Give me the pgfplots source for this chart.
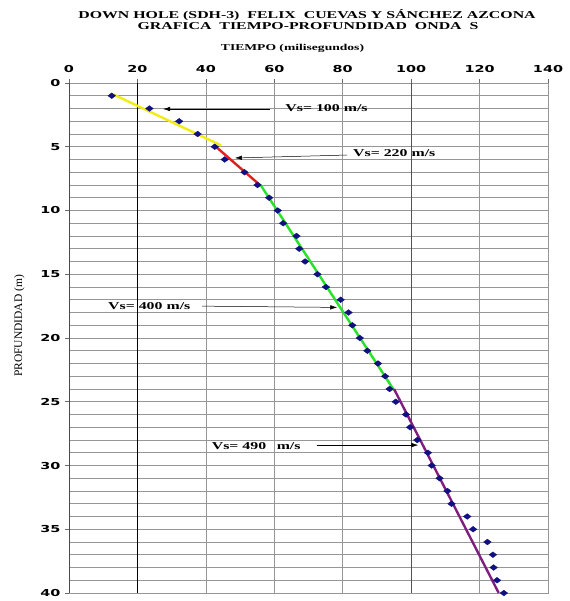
\documentclass[border=0pt]{standalone}
\usepackage{fontspec}
\setmainfont{Liberation Serif}
\newfontfamily\titlefont[FakeStretch=1.51]{Liberation Serif Bold}
\newfontfamily\tickfont[FakeStretch=1.5]{DejaVu Sans Bold}
\usepackage{pgfplots}
\usepackage{pgfplotstable}
\pgfplotsset{compat=1.18}
\usetikzlibrary{arrows.meta}

\definecolor{ptblue}{RGB}{16,16,128}
\definecolor{segyellow}{RGB}{240,236,20}
\definecolor{segred}{RGB}{226,30,30}
\definecolor{seggreen}{RGB}{40,226,40}
\definecolor{segpurple}{RGB}{128,30,128}
\definecolor{gridgray}{RGB}{150,150,150}

% travel time (ms) against depth (m)
\pgfplotstableread{
depth time
1  12.5
2  23.5
3  32.2
4  37.6
5  42.6
6  45.5
7  51.3
8  55.1
9  58.5
10 61.0
11 62.6
12 66.5
13 67.3
14 69.0
15 72.6
16 75.1
17 79.4
18 81.7
19 82.8
20 85.0
21 87.2
22 90.3
23 92.4
24 93.7
25 95.5
26 98.5
27 99.7
28 101.8
29 104.9
30 106.0
31 108.3
32 110.6
33 111.8
34 116.4
35 118.1
36 122.3
37 123.9
38 124.1
39 125.1
40 127.1
}\downhole

\begin{document}
\begin{tikzpicture}
\useasboundingbox (0,0) rectangle (569pt,-601pt);
\begin{axis}[
  at={(69pt,-83pt)}, anchor=north west,
  scale only axis, width=479pt, height=510pt,
  xmin=0, xmax=140, ymin=0, ymax=40, y dir=reverse,
  xtick={0,20,...,140}, ytick={0,5,...,40}, minor y tick num=4,
  xtick pos=right, xticklabel pos=right,
  ytick pos=left, yticklabel pos=left,
  tick align=outside,
  major tick length=4pt, minor tick length=0pt,
  tick style={gridgray!70!black, line width=0.7pt},
  xmajorgrids, ymajorgrids, yminorgrids,
  grid style={gridgray, line width=0.7pt},
  minor grid style={gridgray, line width=0.7pt},
  axis line style={gridgray, line width=0.7pt},
  ticklabel style={font=\tickfont\fontsize{9.6}{11}\selectfont},
  xticklabel style={yshift=3pt},
  yticklabel style={xshift=-1pt},
  /pgf/number format/assume math mode=true,
  clip=false,
]
% darker reference lines of the grid
\draw[gridgray!50!black, line width=0.8pt] (axis cs:0,0) -- (axis cs:0,40);
\draw[black, line width=0.8pt] (axis cs:20,0) -- (axis cs:20,40);
\draw[gridgray!55!black, line width=0.8pt] (axis cs:100,0) -- (axis cs:100,40);

% velocity segments
\addplot[segyellow, line width=2.4pt, no marks] coordinates {(13,0.9) (44.5,4.9)};
\addplot[segred, line width=2.4pt, no marks] coordinates {(42.3,4.85) (56,8.05)};
\addplot[seggreen, line width=2.4pt, no marks] coordinates {(56,8) (95,24.1)};
\addplot[segpurple, line width=2.4pt, no marks] coordinates {(95,24) (125.6,40)};

% measured first arrivals
\addplot[only marks, mark=diamond*, mark size=3.8pt,
  mark options={rotate=90, fill=ptblue, draw=ptblue}]
  table[x=time, y=depth] {\downhole};

% velocity labels
\draw[-{Latex[length=7pt,width=4.5pt]}, line width=0.5pt] (axis cs:58.8,2.04) -- (axis cs:27.5,2.04);
\node[anchor=west, inner sep=0pt, font=\titlefont\fontsize{10.5}{12}\selectfont] at (axis cs:63.2,2.0) {Vs= 100 m/s};
\draw[-{Latex[length=7pt,width=4.5pt]}, line width=0.5pt] (axis cs:81.3,5.65) -- (axis cs:48.5,5.88);
\node[anchor=west, inner sep=0pt, font=\titlefont\fontsize{10.5}{12}\selectfont] at (axis cs:83.0,5.5) {Vs= 220 m/s};
\draw[-{Latex[length=7pt,width=4.5pt]}, line width=0.5pt] (axis cs:38.9,17.5) -- (axis cs:78.4,17.6);
\node[anchor=west, inner sep=0pt, font=\titlefont\fontsize{10.5}{12}\selectfont] at (axis cs:11.4,17.47) {Vs= 400 m/s};
\draw[-{Latex[length=7pt,width=4.5pt]}, line width=0.5pt] (axis cs:72.4,28.4) -- (axis cs:102.1,28.4);
\node[anchor=west, inner sep=0pt, font=\titlefont\fontsize{10.5}{12}\selectfont] at (axis cs:41.7,28.47) {Vs= 490\hspace{1em}m/s};
\end{axis}

\node[font=\titlefont\fontsize{10.5}{12}\selectfont] at (307pt,-15pt) {DOWN HOLE (SDH-3)\ \ FELIX\ \ CUEVAS Y SÁNCHEZ AZCONA};
\node[font=\titlefont\fontsize{10.5}{12}\selectfont] at (308pt,-26pt) {GRAFICA\ \ TIEMPO-PROFUNDIDAD\ \ ONDA\ \ S};
\node[font=\titlefont\fontsize{9}{11}\selectfont] at (292.5pt,-48pt) {TIEMPO (milisegundos)};
\node[rotate=90, font=\fontsize{11.5}{13}\selectfont] at (19.3pt,-326pt) {PROFUNDIDAD (m)};
\end{tikzpicture}
\end{document}
